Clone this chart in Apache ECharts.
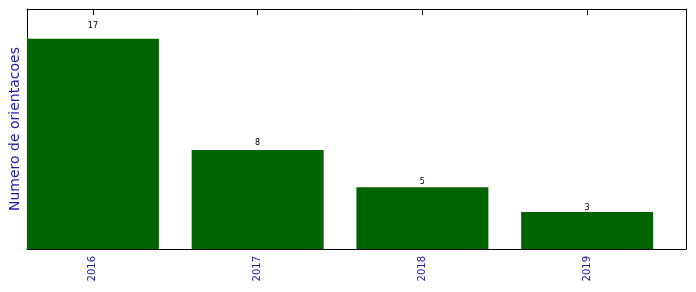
<!DOCTYPE html>
<html>
<head>
<meta charset="utf-8">
<script src="https://cdn.jsdelivr.net/npm/echarts@6/dist/echarts.min.js"></script>
<style>html,body{margin:0;padding:0;background:#fff}#c{width:696px;height:292px}</style>
</head>
<body>
<div id="c"></div>
<script>
const years = ['2016', '2017', '2018', '2019'];
const counts = [17, 8, 5, 3];
const positions = [0, 1, 2, 3];

const chart = echarts.init(document.getElementById('c'), null, {renderer: 'canvas'});
const font = 'DejaVu Sans';
const blue = '#1a1ab4';
const data = counts.map((v, i) => ({
  value: [positions[i], v],
  label: {distance: Math.max(0, 0.62 * v - 2)}
}));
const xCommon = {
  type: 'value', min: -0.4, max: 3.6,
  splitLine: {show: false},
  axisLine: {show: true, onZero: false, lineStyle: {color: '#000', width: 1}},
  axisTick: {show: true, inside: true, length: 6, customValues: positions, lineStyle: {color: '#000'}}
};
const yCommon = {
  type: 'value', min: 0, max: 19.4,
  axisLine: {show: true, onZero: false, lineStyle: {color: '#000', width: 1}},
  axisTick: {show: false}, axisLabel: {show: false}, splitLine: {show: false}
};
chart.setOption({
  animation: false,
  grid: {left: 27, top: 9, right: 10, bottom: 43, containLabel: false, outerBoundsMode: 'none'},
  xAxis: [
    Object.assign({}, xCommon, {
      position: 'bottom',
      axisLabel: {customValues: positions, rotate: 90, margin: 7, color: blue, fontFamily: font, fontSize: 10,
        formatter: v => years[Math.round(v)]}
    }),
    Object.assign({}, xCommon, {position: 'top', axisLabel: {show: false}})
  ],
  yAxis: [
    Object.assign({}, yCommon, {position: 'left',
      name: 'Numero de orientacoes', nameLocation: 'middle', nameGap: 5,
      nameTextStyle: {color: blue, fontFamily: font, fontSize: 14}}),
    Object.assign({}, yCommon, {position: 'right'})
  ],
  series: [{
    type: 'bar', xAxisIndex: 0, yAxisIndex: 0,
    barWidth: 132,
    itemStyle: {color: '#006400'},
    label: {show: true, position: 'top', color: '#000', fontFamily: font, fontSize: 8},
    data: data
  }]
});
</script>
</body>
</html>
